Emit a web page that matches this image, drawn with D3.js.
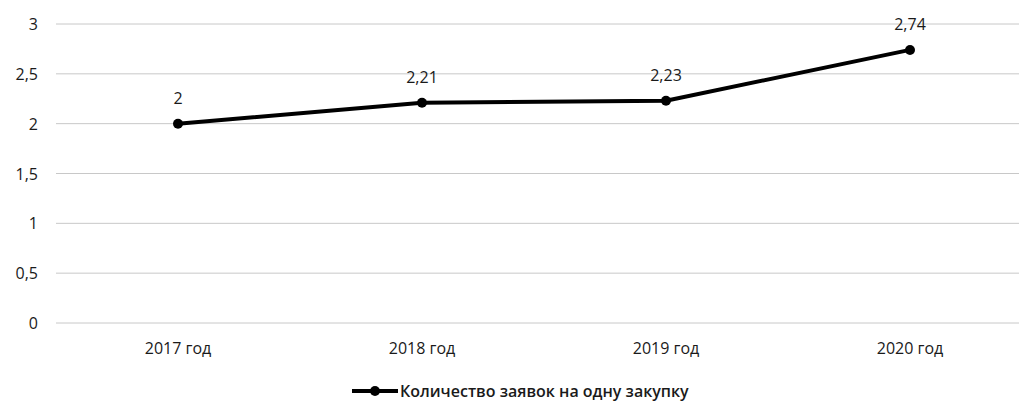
<html>
<head>
<meta charset="utf-8">
<script src="https://d3js.org/d3.v7.min.js"></script>
<style>
  body { margin: 0; background: #fff; }
  text { font-family: "Open Sans", "Noto Sans", sans-serif; fill: #1a1a1a; }
</style>
</head>
<body>
<div id="chart"></div>
<script>
    // data
    var years = ["2017 год", "2018 год", "2019 год", "2020 год"];
    var values = [2, 2.21, 2.23, 2.74];
    var labels = ["2", "2,21", "2,23", "2,74"];
    var yTicks = [0, 0.5, 1, 1.5, 2, 2.5, 3];
    var seriesName = "Количество заявок на одну закупку";

    var width = 1019, height = 403;

    var svg = d3.select("#chart")
        .append("svg")
        .attr("width", width)
        .attr("height", height);

    var x = d3.scaleBand()
        .domain(years)
        .range([56, 1032]);

    var y = d3.scaleLinear()
        .domain([0, 3])
        .range([323, 24]);

    var fmt = function(d) { return String(d).replace(".", ","); };

    // gridlines
    svg.append("g")
        .selectAll("line")
        .data(yTicks)
        .enter()
        .append("line")
        .attr("x1", 56)
        .attr("x2", width)
        .attr("y1", function(d) { return y(d); })
        .attr("y2", function(d) { return y(d); })
        .attr("stroke", "#c8c8c8")
        .attr("stroke-width", 1);

    // Y axis
    var yAxis = svg.append("g")
        .attr("transform", "translate(38,0)")
        .call(d3.axisLeft(y).tickValues(yTicks).tickFormat(fmt).tickSize(0).tickPadding(0));
    yAxis.select(".domain").remove();
    yAxis.selectAll("text")
        .style("font-size", "16px")
        .attr("dy", "0.35em");

    // X axis
    var xAxis = svg.append("g")
        .attr("transform", "translate(0,342)")
        .call(d3.axisBottom(x).tickSize(0).tickPadding(0));
    xAxis.select(".domain").remove();
    xAxis.selectAll("text")
        .style("font-size", "16px")
        .attr("dy", "0.75em");

    var cx = function(d, i) { return x(years[i]) + x.bandwidth() / 2; };

    // line
    svg.append("path")
        .datum(values)
        .attr("fill", "none")
        .attr("stroke", "#000")
        .attr("stroke-width", 4)
        .attr("stroke-linejoin", "round")
        .attr("d", d3.line()
            .x(cx)
            .y(function(d) { return y(d); }));

    // points
    svg.append("g")
        .selectAll("circle")
        .data(values)
        .enter()
        .append("circle")
        .attr("cx", cx)
        .attr("cy", function(d) { return y(d); })
        .attr("r", 5)
        .attr("fill", "#000");

    // data labels
    svg.append("g")
        .selectAll("text")
        .data(values)
        .enter()
        .append("text")
        .attr("x", cx)
        .attr("y", function(d) { return y(d) - 20; })
        .attr("text-anchor", "middle")
        .style("font-size", "16px")
        .text(function(d, i) { return labels[i]; });

    // legend
    var lg = svg.append("g").attr("transform", "translate(352,391)");
    lg.append("line")
        .attr("x1", 0).attr("x2", 46)
        .attr("y1", 0).attr("y2", 0)
        .attr("stroke", "#000").attr("stroke-width", 4);
    lg.append("circle")
        .attr("cx", 23).attr("cy", 0).attr("r", 5).attr("fill", "#000");
    lg.append("text")
        .attr("x", 48)
        .attr("y", 0)
        .attr("dy", "0.35em")
        .style("font-size", "16px")
        .style("font-weight", "600")
        .text(seriesName);
</script>
</body>
</html>
